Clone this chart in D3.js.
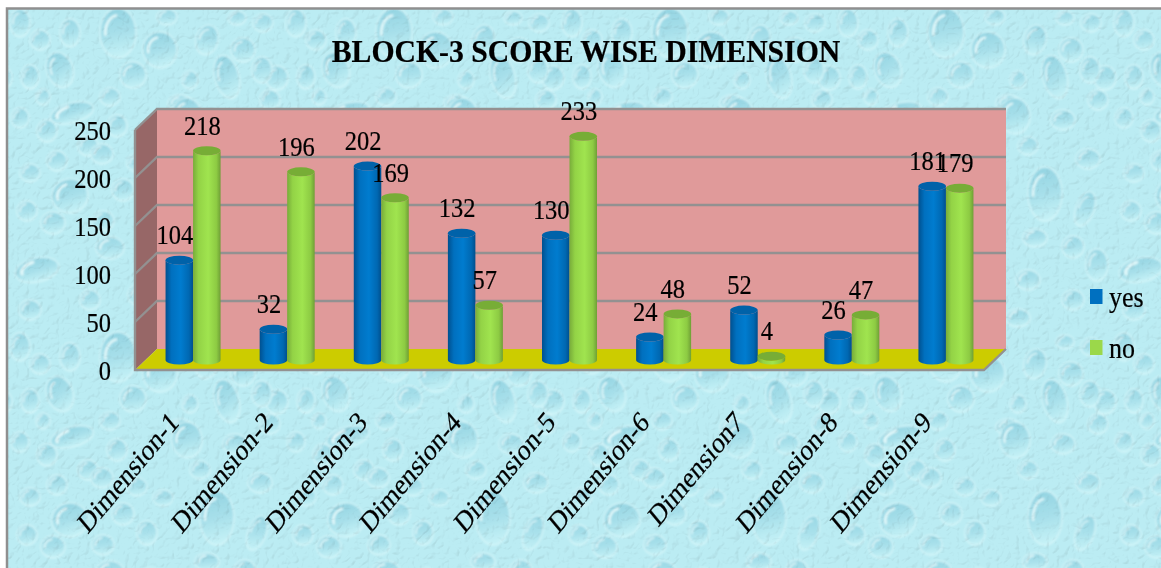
<!DOCTYPE html>
<html>
<head>
<meta charset="utf-8">
<script src="https://cdn.jsdelivr.net/npm/d3@7/dist/d3.min.js"></script>
<style>
  html, body { margin: 0; padding: 0; background: #fff; }
  svg { display: block; }
  text { font-family: "Liberation Serif", serif; fill: #000; stroke: #000; stroke-width: 0.2px; }
</style>
</head>
<body>
<svg id="chart" width="1161" height="568"></svg>
<script>
// Chart values
const categories = ["Dimension-1", "Dimension-2", "Dimension-3", "Dimension-4", "Dimension-5",
                    "Dimension-6", "Dimension7", "Dimension-8", "Dimension-9"];
const seriesNames = ["yes", "no"];
const yesValues = [104, 32, 202, 132, 130, 24, 52, 26, 181];
const noValues = [218, 196, 169, 57, 233, 48, 4, 47, 179];
const yTicks = [0, 50, 100, 150, 200, 250];
const chartTitle = "BLOCK-3 SCORE WISE DIMENSION";

// Water-drop wallpaper motif: x, y, rx, ry, tilt
const drops = [
  [118,33,18,25,0],[160,50,17,18,-5],[207,40,11,15,15],[243,50,12,12,0],[60,70,13,18,-20],
  [133,75,13,13,0],[227,77,12,22,-15],[190,80,8,9,0],[40,40,10,10,0],[70,33,10,14,0],
  [20,23,10,14,0],[30,77,9,12,0],[1,78,11,12,0],[263,23,10,9,0],[237,18,9,7,0],
  [167,17,10,8,0],[110,97,10,9,0],[180,103,12,8,0],[270,100,10,10,0],[43,97,7,8,0],
  [72,113,22,10,-15],[20,118,9,10,0],[47,131,10,11,0],[117,126,10,11,0],
  [88,146,10,10,0],[57,161,10,10,0],[30,173,10,9,0],[70,196,18,17,-10],[137,163,10,9,0],
  [163,174,10,8,0],[217,194,17,27,0],[257,209,9,18,20],[200,146,10,9,0],[147,209,10,12,0],
  [187,116,15,18,-5],[27,211,10,10,0],[53,223,12,11,0],[103,221,11,10,0],[207,238,12,9,0],
  [260,159,12,10,0],[37,270,22,12,-12],[269,265,11,16,0],
  [102,154,11,10,0],[110,248,14,11,0],[150,254,11,10,0],[200,280,12,10,0],
  [245,247,11,11,0],[140,295,12,11,0],[90,300,10,10,0],[245,300,11,10,0],[30,310,11,10,0],
  [190,318,12,9,0],[123,190,11,11,0],[235,120,12,10,0],[262,70,10,13,0]
];
const tileW = 276, tileH = 324;

const svg = d3.select("#chart");
const defs = svg.append("defs");

function linearGrad(id, x2, y2, stops) {
  const g = defs.append("linearGradient").attr("id", id)
    .attr("x1", 0).attr("y1", 0).attr("x2", x2).attr("y2", y2);
  stops.forEach(([o, c]) => g.append("stop").attr("offset", o).attr("stop-color", c));
}
linearGrad("dropFill", 0.15, 1, [[0, "#8fd1e0"], [0.55, "#a6dfea"], [1, "#c4f1f6"]]);
linearGrad("barYes", 1, 0, [[0, "#00508f"], [0.22, "#0070bf"], [0.55, "#007ccf"], [0.85, "#0068b2"], [1, "#004f8d"]]);
linearGrad("barNo", 1, 0, [[0, "#78ac3a"], [0.2, "#93d346"], [0.55, "#a0e44f"], [0.85, "#8dcb43"], [1, "#6f9f36"]]);

// Embossed ripple surface laid over the wallpaper
const ripple = defs.append("filter").attr("id", "ripple")
  .attr("x", 0).attr("y", 0).attr("width", "100%").attr("height", "100%")
  .attr("color-interpolation-filters", "sRGB");
ripple.append("feTurbulence").attr("type", "turbulence").attr("baseFrequency", 0.1)
  .attr("numOctaves", 2).attr("seed", 11).attr("result", "n");
ripple.append("feDiffuseLighting").attr("in", "n").attr("surfaceScale", 2)
  .attr("diffuseConstant", 1.2).attr("lighting-color", "#ffffff")
  .append("feDistantLight").attr("azimuth", 225).attr("elevation", 60);
defs.append("filter").attr("id", "soft").append("feGaussianBlur").attr("stdDeviation", 0.8);

// Wallpaper tile
const tile = defs.append("pattern").attr("id", "water").attr("patternUnits", "userSpaceOnUse")
  .attr("width", tileW).attr("height", tileH);
tile.append("rect").attr("width", tileW).attr("height", tileH).attr("fill", "#bbecf3");
const tileDrops = tile.append("g").attr("filter", "url(#soft)");
const wrapped = drops.flatMap(d => [-1, 0, 1].flatMap(i => [-1, 0, 1].map(j =>
  [d[0] + i * tileW, d[1] + j * tileH, d[2], d[3], d[4]])))
  .filter(d => d[0] > -40 && d[0] < tileW + 40 && d[1] > -40 && d[1] < tileH + 40);
const dropG = tileDrops.selectAll("g").data(wrapped).join("g")
  .attr("transform", d => `translate(${d[0]},${d[1]}) rotate(${d[4]})`);
dropG.append("ellipse").attr("rx", d => d[2]).attr("ry", d => d[3])
  .attr("fill", "url(#dropFill)").attr("fill-opacity", d => d[2] * d[3] > 200 ? 0.95 : 0.85)
  .attr("stroke", "#dcf9fb").attr("stroke-width", 1.3).attr("stroke-opacity", 0.8);
dropG.append("path")
  .attr("d", d => {
    const rx = d[2] * 0.7, ry = d[3] * 0.7;
    return `M${-rx},${ry * 0.1} A${rx},${ry} 0 0 1 ${-rx * 0.15},${-ry}`;
  })
  .attr("fill", "none").attr("stroke", "#eefefe").attr("stroke-width", d => Math.max(1.3, d[2] * 0.14))
  .attr("stroke-opacity", 0.85).attr("stroke-linecap", "round");

// Scales: back wall, bar depth plane and front edge share the same slope
const yBack = d3.scaleLinear().domain([0, 250]).range([349, 109]);
const yBar = d3.scaleLinear().domain([0, 250]).range([360, 120]);
const yFront = d3.scaleLinear().domain([0, 250]).range([370, 130]);
const x0 = d3.scaleBand().domain(categories).range([146, 993]).paddingInner(0.4155).paddingOuter(0.2078);
const x1 = d3.scaleBand().domain(seriesNames).range([0, x0.bandwidth()]);
const color = d3.scaleOrdinal().domain(seriesNames).range(["#0070c0", "#9bd84a"]);

// Background and frame
svg.append("rect").attr("x", 7).attr("y", 8).attr("width", 1154).attr("height", 560).attr("fill", "url(#water)");
svg.append("rect").attr("x", 7).attr("y", 8).attr("width", 1154).attr("height", 560)
  .attr("filter", "url(#ripple)").style("mix-blend-mode", "multiply").attr("opacity", 0.13);
svg.append("path").attr("d", "M7,568 V8.5 H1161").attr("fill", "none").attr("stroke", "#8f8f8f").attr("stroke-width", 2.5);

const stretch = "scale(1,1.1)";

// Title
svg.append("text").attr("transform", "translate(586,62) scale(1,1.05)").attr("text-anchor", "middle")
  .attr("font-size", 29.7).attr("font-weight", "bold").text(chartTitle);

// 3D box
const depthX = 22, frontL = 135, backR = 1006;
const topBack = yBack(250), botBack = yBack(0), topFront = yFront(250), botFront = yFront(0);
const line = d3.line();
const box = svg.append("g");
box.append("path").attr("d", line([[frontL + depthX, topBack], [backR, topBack], [backR, botBack], [frontL + depthX, botBack]]) + "Z")
  .attr("fill", "#e09a9a");
box.append("path").attr("d", line([[frontL, topFront], [frontL + depthX, topBack], [frontL + depthX, botBack], [frontL, botFront]]) + "Z")
  .attr("fill", "#976767");
box.append("path").attr("d", line([[frontL, botFront], [frontL + depthX, botBack], [backR, botBack], [backR - depthX, botFront]]) + "Z")
  .attr("fill", "#cccc00");
box.selectAll(".grid").data(yTicks.slice(1)).join("path").attr("class", "grid")
  .attr("d", t => line([[frontL, yFront(t)], [frontL + depthX, yBack(t)], [backR, yBack(t)]]))
  .attr("fill", "none").attr("stroke", "#939191").attr("stroke-width", 2.4);
box.append("path")
  .attr("d", line([[frontL, topFront], [frontL, botFront], [backR - depthX, botFront], [backR, botBack]]))
  .attr("fill", "none").attr("stroke", "#939191").attr("stroke-width", 2.4);

// Value axis
const yAxis = svg.append("g").attr("transform", "translate(111,1)")
  .call(d3.axisLeft(yFront).tickValues(yTicks).tickSize(0).tickPadding(0));
yAxis.select(".domain").remove();
yAxis.selectAll("text").attr("font-size", 24.5).attr("font-family", "Liberation Serif")
  .attr("fill", "#000").attr("transform", stretch);

// Cylinders
const rows = categories.map((c, i) => ({ category: c, yes: yesValues[i], no: noValues[i] }));
const topRy = 4.5;
function cylinderBody(x, w, yTop, yBottom) {
  const r = w / 2;
  return `M${x},${yTop} V${yBottom} A${r},${topRy} 0 0 0 ${x + w},${yBottom} V${yTop} A${r},${topRy} 0 0 1 ${x},${yTop}Z`;
}
const groups = svg.append("g").selectAll("g").data(rows).join("g")
  .attr("transform", d => `translate(${x0(d.category)},0)`);
const bars = groups.selectAll("g").data(d => seriesNames.map(s => ({ s, v: d[s] }))).join("g");
bars.append("path")
  .attr("d", d => cylinderBody(x1(d.s), x1.bandwidth(), yBar(d.v), yBar(0)))
  .attr("fill", d => d.s === "yes" ? "url(#barYes)" : "url(#barNo)");
bars.append("ellipse")
  .attr("cx", d => x1(d.s) + x1.bandwidth() / 2).attr("cy", d => yBar(d.v))
  .attr("rx", x1.bandwidth() / 2).attr("ry", topRy)
  .attr("fill", d => d.s === "yes" ? "#0062a9" : "#77ad36");

// Value labels sit above the cylinders
svg.append("g").selectAll("g").data(rows).join("g")
  .attr("transform", d => `translate(${x0(d.category)},0)`)
  .selectAll("text").data(d => seriesNames.map(s => ({ s, v: d[s] }))).join("text")
  .attr("transform", d => `translate(${x1(d.s) + x1.bandwidth() / 2 - 4.5},${yBar(d.v) - 16}) ${stretch}`)
  .attr("text-anchor", "middle").attr("font-size", 24.5).text(d => d.v);

// Category labels
svg.append("g").selectAll("text").data(categories).join("text")
  .attr("transform", c => `translate(${x0(c) + x0.bandwidth() / 2 - 13},424) scale(1,1.2) rotate(-45)`)
  .attr("text-anchor", "end").attr("font-size", 25).text(c => c);

// Legend
const legendY = d3.scaleOrdinal().domain(seriesNames).range([289, 340]);
const legend = svg.append("g").selectAll("g").data(seriesNames).join("g")
  .attr("transform", s => `translate(1090,${legendY(s)})`);
legend.append("rect").attr("width", 12.5).attr("height", 15).attr("fill", color);
legend.append("text").attr("transform", `translate(19,18) ${stretch}`).attr("font-size", 26).text(s => s);
</script>
</body>
</html>
